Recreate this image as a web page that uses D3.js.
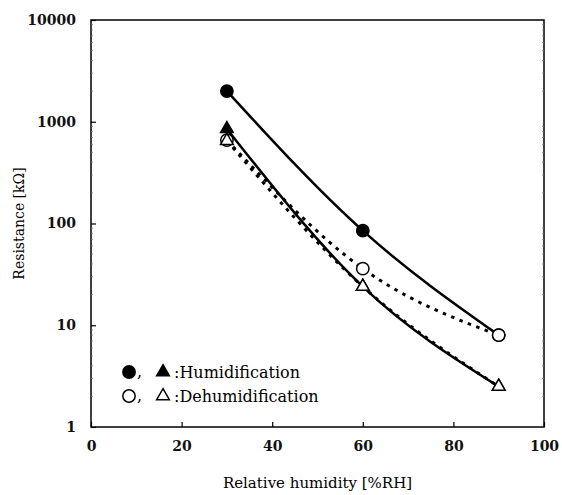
<!DOCTYPE html>
<html>
<head>
<meta charset="utf-8">
<script src="https://cdn.jsdelivr.net/npm/d3@7"></script>
<style>
  body { margin: 0; background: #fff; }
  svg text { font-family: "DejaVu Serif", "Liberation Serif", serif; }
</style>
</head>
<body>
<div id="chart"></div>
<script>
// values
const humidity = [30, 60, 90];
const humCircle = [2000, 85, 8];
const humTriangle = [850, 24, 2.5];
const dehumCircle = [660, 36, 8];
const dehumTriangle = [650, 24, 2.5];

const xTicks = [0, 20, 40, 60, 80, 100];
const yTicks = [1, 10, 100, 1000, 10000];

const svg = d3.select("#chart")
    .append("svg")
    .attr("width", 562)
    .attr("height", 495);

const plotLeft = 91, plotRight = 544, plotTop = 20, plotBottom = 427;

const xScale = d3.scaleLinear().domain([0, 100]).range([plotLeft, plotRight]);
const yScale = d3.scaleLog().domain([1, 10000]).range([plotBottom, plotTop]);

// frame
svg.append("rect")
    .attr("x", plotLeft).attr("y", plotTop)
    .attr("width", plotRight - plotLeft).attr("height", plotBottom - plotTop)
    .attr("fill", "none").attr("stroke", "#000").attr("stroke-width", 1.5);

// axes, ticks inward
const xAxis = svg.append("g")
    .attr("transform", `translate(0,${plotBottom})`)
    .call(d3.axisBottom(xScale).tickValues(xTicks).tickSizeInner(-5).tickSizeOuter(0).tickPadding(14));
const yAxis = svg.append("g")
    .attr("transform", `translate(${plotLeft},0)`)
    .call(d3.axisLeft(yScale).tickValues(yTicks).tickFormat(d3.format("d")).tickSizeInner(-5).tickSizeOuter(0).tickPadding(15));

// minor log ticks
const minor = [];
for (let e = 0; e < 4; e++) for (let m = 2; m < 10; m++) minor.push(m * Math.pow(10, e));
svg.append("g").selectAll("line")
    .data(minor).join("line")
    .attr("x1", plotLeft).attr("x2", plotLeft + 2)
    .attr("y1", d => yScale(d)).attr("y2", d => yScale(d))
    .attr("stroke", "#777").attr("stroke-width", 0.8);
svg.append("g").selectAll("line")
    .data(minor).join("line")
    .attr("x1", plotRight).attr("x2", plotRight - 2)
    .attr("y1", d => yScale(d)).attr("y2", d => yScale(d))
    .attr("stroke", "#777").attr("stroke-width", 0.8);

[xAxis, yAxis].forEach(a => {
    a.select(".domain").remove();
    a.selectAll("line").attr("stroke", "#000").attr("stroke-width", 1.2);
    a.attr("font-family", null);
    a.selectAll("text")
        .style("font-size", "14px")
        .style("font-weight", "bold")
        .attr("fill", "#111");
});

// axis titles
svg.append("text")
    .attr("x", (plotLeft + plotRight) / 2).attr("y", 488)
    .attr("text-anchor", "middle")
    .style("font-size", "15px")
    .text("Relative humidity [%RH]");
svg.append("text")
    .attr("transform", `translate(24,${(plotTop + plotBottom) / 2}) rotate(-90)`)
    .attr("text-anchor", "middle")
    .style("font-size", "14px")
    .text("Resistance [kΩ]");

// curves
const line = d3.line()
    .x(d => xScale(d[0]))
    .y(d => yScale(d[1]))
    .curve(d3.curveMonotoneX);

const series = [
    { values: humCircle, dash: null },
    { values: humTriangle, dash: null },
    { values: dehumCircle, dash: "3.5,5.5" },
    { values: dehumTriangle, dash: "3.5,5.5" }
];

series.forEach(s => {
    svg.append("path")
        .datum(humidity.map((h, i) => [h, s.values[i]]))
        .attr("d", line)
        .attr("fill", "none")
        .attr("stroke", "#000")
        .attr("stroke-width", s.dash ? 3 : 2.5)
        .attr("stroke-dasharray", s.dash);
});

// markers
const circ = d3.symbol().type(d3.symbolCircle).size(120);
const tri = d3.symbol().type(d3.symbolTriangle).size(70);

function markers(vals, sym, filled) {
    svg.append("g").selectAll("path")
        .data(humidity.map((h, i) => [h, vals[i]]))
        .join("path")
        .attr("d", sym)
        .attr("transform", d => `translate(${xScale(d[0])},${yScale(d[1])})`)
        .attr("fill", filled ? "#000" : "#fff")
        .attr("stroke", "#000")
        .attr("stroke-width", 1.5);
}
markers(humCircle, circ, true);
markers(humTriangle, tri, true);
markers(dehumCircle, circ, false);
markers(dehumTriangle, tri, false);

// legend
const legend = svg.append("g");
const rows = [
    { y: 372, filled: true, label: ":Humidification" },
    { y: 396, filled: false, label: ":Dehumidification" }
];
rows.forEach(r => {
    legend.append("path").attr("d", circ)
        .attr("transform", `translate(129,${r.y})`)
        .attr("fill", r.filled ? "#000" : "#fff")
        .attr("stroke", "#000").attr("stroke-width", 1.5);
    legend.append("text").attr("x", 137).attr("y", r.y + 5)
        .style("font-size", "16px").text(",");
    legend.append("path").attr("d", tri)
        .attr("transform", `translate(163,${r.y})`)
        .attr("fill", r.filled ? "#000" : "#fff")
        .attr("stroke", "#000").attr("stroke-width", 1.5);
    legend.append("text").attr("x", 174).attr("y", r.y + 6)
        .style("font-size", "16px").text(r.label);
});
</script>
</body>
</html>
